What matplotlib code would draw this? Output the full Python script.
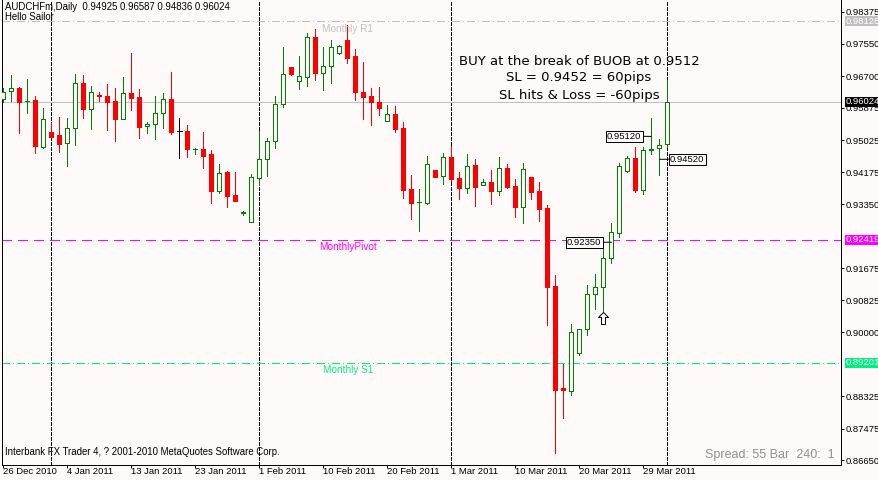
import matplotlib
matplotlib.use('Agg')
import matplotlib.pyplot as plt
import numpy as np
import pandas as pd
from matplotlib.path import Path
from matplotlib.markers import MarkerStyle
import matplotlib.transforms as mtransforms

# ---------------- data ----------------
symbol = "AUDCHFm,Daily"
header_ohlc = "0.94925 0.96587 0.94836 0.96024"

opens = [0.96090, 0.96300, 0.96386, 0.96033, 0.96072, 0.94850, 0.95235, 0.95156, 0.94939, 0.95331,
         0.96509, 0.95844, 0.96190, 0.96177, 0.96046, 0.95583, 0.96255, 0.96151, 0.95384, 0.95436,
         0.95724, 0.96098, 0.95253, 0.95261, 0.94785, 0.94790, 0.94659, 0.93698, 0.94188, 0.93586,
         0.93118, 0.92887, 0.94039, 0.94520, 0.94991, 0.95960, 0.96936, 0.96577, 0.96682, 0.97721,
         0.96786, 0.96954, 0.97310, 0.97642, 0.97224, 0.96281, 0.96177, 0.96020, 0.95515, 0.95706,
         0.95339, 0.93743, 0.93405, 0.93384, 0.94240, 0.94075, 0.94580, 0.94031, 0.93777, 0.94371,
         0.93840, 0.93926, 0.93698, 0.94292, 0.93821, 0.93280, 0.94049, 0.93691, 0.93246, 0.91212,
         0.88522, 0.88464, 0.89459, 0.90087, 0.90987, 0.91170, 0.91929, 0.92584, 0.94222, 0.94562,
         0.93717, 0.94775, 0.94808, 0.94925]
highs = [0.96386, 0.96726, 0.96420, 0.96622, 0.96177, 0.95855, 0.95478, 0.95627, 0.95593, 0.96752,
         0.96726, 0.96438, 0.96274, 0.96491, 0.96386, 0.96674, 0.97300, 0.96360, 0.95504, 0.96177,
         0.96255, 0.96805, 0.95601, 0.95418, 0.94816, 0.95235, 0.94764, 0.94397, 0.94214, 0.94188,
         0.93175, 0.94135, 0.95261, 0.95070, 0.96177, 0.97451, 0.96940, 0.97224, 0.97818, 0.97930,
         0.97459, 0.97642, 0.97519, 0.98043, 0.97415, 0.97067, 0.96386, 0.96412, 0.95941, 0.95915,
         0.95488, 0.94109, 0.93735, 0.94599, 0.94250, 0.94685, 0.94863, 0.94188, 0.94659, 0.94528,
         0.94005, 0.94240, 0.94588, 0.94397, 0.94005, 0.94423, 0.94057, 0.93926, 0.93316, 0.91492,
         0.89163, 0.90210, 0.90079, 0.91231, 0.91518, 0.92191, 0.92853, 0.94431, 0.94614, 0.94850,
         0.94834, 0.95601, 0.95051, 0.96587]
lows = [0.96020, 0.96054, 0.95216, 0.95724, 0.94693, 0.94808, 0.95091, 0.94719, 0.94345, 0.94894,
        0.95609, 0.95313, 0.96054, 0.95287, 0.94999, 0.95575, 0.95810, 0.95085, 0.95201, 0.95059,
        0.95347, 0.95182, 0.94562, 0.94588, 0.94667, 0.94300, 0.93384, 0.93646, 0.93280, 0.93416,
        0.93070, 0.92879, 0.93855, 0.94083, 0.94824, 0.95881, 0.96734, 0.96368, 0.96446, 0.96603,
        0.96342, 0.96525, 0.97268, 0.97040, 0.96080, 0.95575, 0.95418, 0.95679, 0.95510, 0.95242,
        0.93500, 0.92966, 0.92652, 0.93358, 0.94049, 0.93861, 0.93952, 0.93481, 0.93646, 0.93306,
        0.93835, 0.93358, 0.93594, 0.93769, 0.93018, 0.92845, 0.93481, 0.92905, 0.90184, 0.86842,
        0.87758, 0.88352, 0.89399, 0.89930, 0.90603, 0.90558, 0.91814, 0.92495, 0.94188, 0.93672,
        0.93604, 0.94659, 0.94109, 0.94836]
closes = [0.96289, 0.96378, 0.96028, 0.96041, 0.94876, 0.95567, 0.95112, 0.94928, 0.95331, 0.96509,
          0.95837, 0.96289, 0.96164, 0.96028, 0.95575, 0.96247, 0.96132, 0.95373, 0.95444, 0.95724,
          0.96090, 0.95242, 0.95253, 0.94798, 0.94795, 0.94614, 0.93698, 0.94154, 0.93568, 0.93437,
          0.93128, 0.94049, 0.94528, 0.94999, 0.95967, 0.96752, 0.96760, 0.96700, 0.97721, 0.96786,
          0.96962, 0.97451, 0.97485, 0.97179, 0.96289, 0.96158, 0.96020, 0.95871, 0.95698, 0.95321,
          0.93725, 0.93384, 0.93415, 0.94389, 0.94065, 0.94575, 0.94005, 0.93777, 0.94345, 0.93803,
          0.93918, 0.93698, 0.94292, 0.93803, 0.93280, 0.94259, 0.93672, 0.93227, 0.91186, 0.88483,
          0.88475, 0.90001, 0.90071, 0.90995, 0.91170, 0.91929, 0.92610, 0.94345, 0.94562, 0.93717,
          0.94764, 0.94790, 0.94887, 0.96024]

# MT4 daily bars (Sunday sessions included, Saturdays absent)
dates = pd.bdate_range('2010-12-26', '2011-04-01', freq='C',
                       weekmask='Sun Mon Tue Wed Thu Fri')
date_label_every = 8

y_ticks = [0.98375, 0.97550, 0.96700, 0.95875, 0.95025, 0.94175, 0.93350,
           0.91675, 0.90825, 0.90000, 0.88325, 0.87475, 0.86650]

monthly_r1 = 0.98128
monthly_pivot = 0.92419
monthly_s1 = 0.89201
bid_price = 0.96024

# (bar index, price, side of the box relative to the bar)
price_boxes = [(81, 0.95120, 'left'), (82, 0.94520, 'right'), (76, 0.92350, 'left')]
buy_arrow_bar = 75
notes = ["BUY at the break of BUOB at 0.9512",
         "SL = 0.9452 = 60pips",
         "SL hits & Loss = -60pips"]
spread_text = "Spread: 55 Bar  240:  1"

# ---------------- style ----------------
BG = '#FFFAFA'
GREEN = '#008000'
RED = '#FF0000'
MAGENTA = '#FF00FF'
SPRING = '#00F07F'
SILVER = '#C0C0C0'
W, H = 879, 480
PX = 72 / 100.0          # one pixel in points
SMALL = 'Liberation Sans'

fig = plt.figure(figsize=(W / 100, H / 100), dpi=100, facecolor=BG)
ax = fig.add_axes([2.5 / W, 15.5 / H, (841.5 - 2.5) / W, 464.5 / H])
ax.set_facecolor(BG)

o = np.array(opens); h = np.array(highs); l = np.array(lows); c = np.array(closes)
x = np.arange(len(o))
up = c > o
dn = c < o
flat = c == o
cols = np.where(up, GREEN, np.where(dn, RED, 'black'))

ax.vlines(x, l, h, colors=cols, lw=PX, zorder=3, antialiased=False)
ax.bar(x[up], (c - o)[up], bottom=o[up], width=0.5, facecolor=BG,
       edgecolor=GREEN, lw=PX, zorder=4, antialiased=False)
ax.bar(x[dn], (o - c)[dn], bottom=c[dn], width=0.5, facecolor=RED,
       edgecolor=RED, lw=PX, zorder=4, antialiased=False)
ax.hlines(c[flat], x[flat] - 0.3, x[flat] + 0.3, colors='black', lw=PX, zorder=4,
          antialiased=False)

# period separators (first bar of each month)
months = dates.month
for i in range(1, len(dates)):
    if months[i] != months[i - 1]:
        ax.axvline(i, color='black', lw=PX, ls=(0, (3, 2)), zorder=2, antialiased=False)

# monthly levels
ax.axhline(monthly_r1, color=SILVER, lw=PX, ls=(0, (8, 3, 1, 3)), zorder=2, antialiased=False)
ax.axhline(bid_price, color=SILVER, lw=PX, zorder=2, antialiased=False)
ax.axhline(monthly_pivot, color=MAGENTA, lw=PX, ls=(0, (10, 6)), zorder=2, antialiased=False)
ax.axhline(monthly_s1, color=SPRING, lw=PX, ls=(0, (8, 3, 1, 3)), zorder=2, antialiased=False)

lab_x = (348 - 2.5) / (841.5 - 2.5)
for txt, lvl, colr in [("Monthly R1", monthly_r1, SILVER),
                       ("MonthlyPivot", monthly_pivot, MAGENTA),
                       ("Monthly S1", monthly_s1, SPRING)]:
    ax.annotate(txt, xy=(lab_x, lvl), xycoords=ax.get_yaxis_transform(),
                xytext=(0, -7.5 * PX), textcoords='offset points',
                ha='center', va='center', color=colr, fontsize=7.2,
                family=SMALL, zorder=5)

# right-side highlighted prices
for lvl, fc in [(monthly_r1, SILVER), (bid_price, 'black'),
                (monthly_pivot, MAGENTA), (monthly_s1, SPRING)]:
    ax.annotate(f"{lvl:.5f}", xy=(1, lvl), xycoords=ax.get_yaxis_transform(),
                xytext=(4 * PX, 0), textcoords='offset points',
                ha='left', va='center', color='white', fontsize=6.8,
                family=SMALL, annotation_clip=False, zorder=6,
                bbox=dict(boxstyle='square,pad=0.05', facecolor=fc, edgecolor='none'))

# price boxes with leader lines
for bi, lvl, side in price_boxes:
    off = -10 if side == 'left' else 10.5
    ax.annotate(f"{lvl:.5f}", xy=(bi, lvl), xytext=(off * PX, 0),
                textcoords='offset points',
                ha='right' if side == 'left' else 'left', va='center',
                fontsize=6.8, family=SMALL, color='black', zorder=7,
                bbox=dict(boxstyle='square,pad=0.12', facecolor='white',
                          edgecolor='black', lw=PX),
                arrowprops=dict(arrowstyle='-', color='black', lw=PX,
                                shrinkA=0, shrinkB=0))

# buy arrow below the signal bar
arrow_path = Path([(0, 1), (0.83, 0.17), (0.33, 0.17), (0.33, -1), (-0.33, -1),
                   (-0.33, 0.17), (-0.83, 0.17), (0, 1)],
                  [Path.MOVETO] + [Path.LINETO] * 6 + [Path.CLOSEPOLY])
shift = mtransforms.ScaledTranslation(0, -7.3 / 100, fig.dpi_scale_trans)
ax.plot([buy_arrow_bar], [l[buy_arrow_bar]], marker=MarkerStyle(arrow_path),
        markersize=12 * PX, markerfacecolor='white', markeredgecolor='black',
        markeredgewidth=PX, ls='none', transform=ax.transData + shift, zorder=8)

# notes
for k, (txt, ypx) in enumerate(zip(notes, [61, 78, 95])):
    ax.text((579 - 2.5) / 839, 1 - ypx / 464.5, txt, transform=ax.transAxes,
            ha='center', va='center', fontsize=9.5, family='DejaVu Sans',
            color='black', zorder=5)

# header / footer texts
fig.text(5 / W, 1 - 7.5 / H, f"{symbol}  {header_ohlc}", ha='left', va='center',
         fontsize=6.9, family=SMALL, color='black')
fig.text(5 / W, 1 - 17 / H, "Hello Sailor", ha='left', va='center',
         fontsize=6.9, family=SMALL, color='black')
fig.text(5 / W, 1 - 452 / H, "Interbank FX Trader 4, ? 2001-2010 MetaQuotes Software Corp.",
         ha='left', va='center', fontsize=6.9, family=SMALL, color='black')
fig.text(835 / W, 1 - 458 / H, spread_text, ha='right', va='baseline',
         fontsize=9, family=SMALL, color='#909090')

# axes
ax.set_xlim(-0.125, 104.75)
ax.set_ylim(0.98689 - 0.0002617 * 464.5, 0.98689)
ax.yaxis.tick_right()
ax.set_yticks(y_ticks)
ax.set_yticklabels([f"{v:.5f}" for v in y_ticks], family=SMALL, fontsize=6.8)
tick_idx = list(range(0, len(dates), date_label_every))
ax.set_xticks(tick_idx)
ax.set_xticklabels([f"{dates[i].day} {dates[i].strftime('%b %Y')}" for i in tick_idx],
                   family=SMALL, fontsize=6.8, ha='left')
ax.tick_params(axis='y', direction='out', length=3 * PX, width=PX, pad=1 * PX,
               colors='black')
ax.tick_params(axis='x', direction='out', length=3 * PX, width=PX, pad=0,
               colors='black')
for s in ['left', 'right', 'bottom']:
    ax.spines[s].set_color('black')
    ax.spines[s].set_linewidth(PX)
ax.spines['top'].set_visible(False)

fig.savefig('out.png', dpi=100, facecolor=BG)
